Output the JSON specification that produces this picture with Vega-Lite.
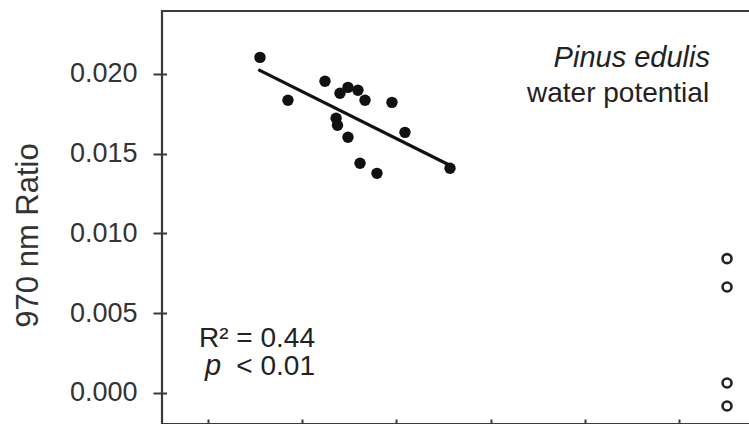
{
  "$schema": "https://vega.github.io/schema/vega-lite/v6.json",
  "width": 590,
  "height": 413,
  "autosize": {"type": "none"},
  "padding": {"left": 162, "top": 11, "right": 0, "bottom": 0},
  "background": "white",
  "config": {
    "view": {"stroke": null},
    "font": "Liberation Sans",
    "axis": {
      "domain": false,
      "grid": false,
      "tickColor": "#3a3a3a",
      "tickWidth": 2,
      "labelFont": "Liberation Sans",
      "labelColor": "#333333",
      "titleFont": "Liberation Sans",
      "titleColor": "#333333",
      "titleFontWeight": "normal"
    }
  },
  "datasets": {
    "live": [
      {"psi": 1.552, "ratio": 0.02103},
      {"psi": 1.849, "ratio": 0.01834},
      {"psi": 2.242, "ratio": 0.01953},
      {"psi": 2.401, "ratio": 0.01878},
      {"psi": 2.486, "ratio": 0.01915},
      {"psi": 2.592, "ratio": 0.01897},
      {"psi": 2.667, "ratio": 0.01834},
      {"psi": 2.360, "ratio": 0.01721},
      {"psi": 2.375, "ratio": 0.01677},
      {"psi": 2.486, "ratio": 0.01602},
      {"psi": 2.953, "ratio": 0.01821},
      {"psi": 3.091, "ratio": 0.01633},
      {"psi": 2.614, "ratio": 0.01439},
      {"psi": 2.794, "ratio": 0.01376},
      {"psi": 3.569, "ratio": 0.01408}
    ],
    "dead": [
      {"psi": 6.51, "ratio": 0.00841},
      {"psi": 6.51, "ratio": 0.00663},
      {"psi": 6.51, "ratio": 0.00061},
      {"psi": 6.51, "ratio": -0.00083}
    ],
    "fit": [
      {"psi": 1.534, "ratio": 0.02026},
      {"psi": 3.604, "ratio": 0.01416}
    ],
    "frame": [
      {"psi_lo": 0.512, "psi_hi": 6.775, "ratio_lo": -0.00196, "ratio_hi": 0.02394}
    ],
    "notes": [
      {"psi": 6.32, "ratio": 0.01823, "note": "water potential"},
      {"psi": 2.136, "ratio": 0.00289, "note": "R² = 0.44"},
      {"psi": 2.136, "ratio": 0.00112, "note": "< 0.01"}
    ],
    "italic_notes": [
      {"psi": 6.329, "ratio": 0.02045, "note": "Pinus edulis"},
      {"psi": 1.14, "ratio": 0.00112, "note": "p"}
    ]
  },
  "layer": [
    {
      "data": {"name": "frame"},
      "mark": {"type": "rect", "fill": "#ffffff", "fillOpacity": 0, "stroke": "#3a3a3a", "strokeWidth": 2.2, "clip": false},
      "encoding": {
        "x": {
          "field": "psi_lo", "type": "quantitative",
          "scale": {"domain": [0.512, 6.775], "nice": false, "zero": false},
          "axis": {"orient": "bottom", "zindex": 1, "values": [1, 2, 3, 4, 5, 6], "labels": false, "tickSize": 5, "offset": -5, "title": null}
        },
        "x2": {"field": "psi_hi"},
        "y": {
          "field": "ratio_lo", "type": "quantitative",
          "scale": {"domain": [-0.00196, 0.02394], "nice": false, "zero": false},
          "axis": {
            "orient": "left",
            "zindex": 1,
            "values": [0, 0.005, 0.01, 0.015, 0.02],
            "format": ".3f",
            "offset": -4.5,
            "tickSize": 13.5,
            "labelFontSize": 27,
            "labelPadding": 16,
            "title": "970 nm Ratio",
            "titleFontSize": 31,
            "titleAngle": -90,
            "titleAlign": "center",
            "titleBaseline": "middle",
            "titleX": -138,
            "titleY": 224
          }
        },
        "y2": {"field": "ratio_hi"}
      }
    },
    {
      "data": {"name": "dead"},
      "mark": {"type": "point", "shape": "circle", "size": 80, "filled": false, "stroke": "#222222", "strokeWidth": 2.6, "opacity": 1},
      "encoding": {
        "x": {"field": "psi", "type": "quantitative"},
        "y": {"field": "ratio", "type": "quantitative"}
      }
    },
    {
      "data": {"name": "live"},
      "mark": {"type": "circle", "size": 130, "color": "#111111", "opacity": 1},
      "encoding": {
        "x": {"field": "psi", "type": "quantitative"},
        "y": {"field": "ratio", "type": "quantitative"}
      }
    },
    {
      "data": {"name": "fit"},
      "mark": {"type": "line", "color": "#111111", "strokeWidth": 3.2},
      "encoding": {
        "x": {"field": "psi", "type": "quantitative"},
        "y": {"field": "ratio", "type": "quantitative"}
      }
    },
    {
      "data": {"name": "notes"},
      "mark": {"type": "text", "align": "right", "baseline": "alphabetic", "fontSize": 28, "color": "#222222", "font": "Liberation Sans"},
      "encoding": {
        "x": {"field": "psi", "type": "quantitative"},
        "y": {"field": "ratio", "type": "quantitative"},
        "text": {"field": "note"}
      }
    },
    {
      "data": {"name": "italic_notes"},
      "mark": {"type": "text", "align": "right", "baseline": "alphabetic", "fontSize": 29, "fontStyle": "italic", "color": "#222222", "font": "Liberation Sans"},
      "encoding": {
        "x": {"field": "psi", "type": "quantitative"},
        "y": {"field": "ratio", "type": "quantitative"},
        "text": {"field": "note"}
      }
    }
  ]
}
